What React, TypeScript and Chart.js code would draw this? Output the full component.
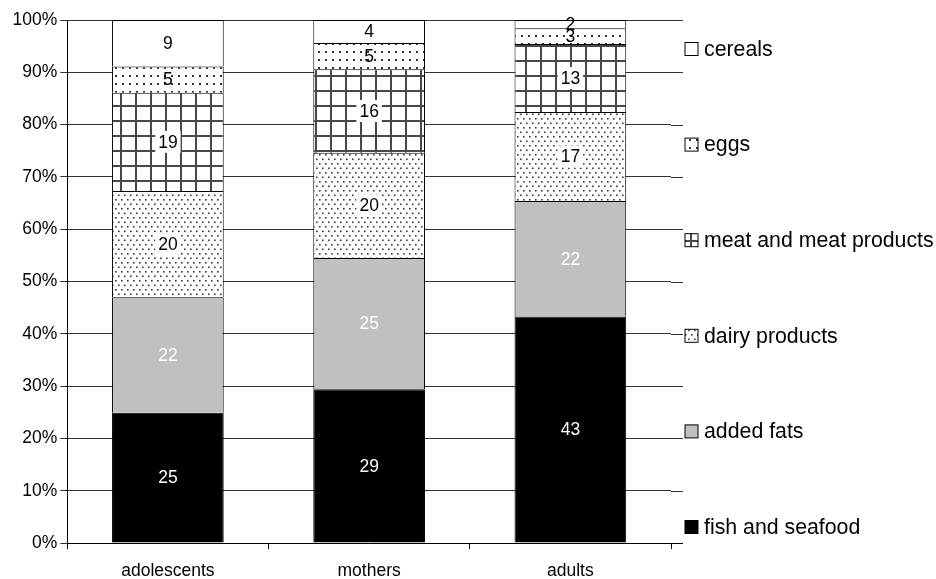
import React, { useEffect, useRef } from 'react';
import { Chart, registerables } from 'chart.js';

Chart.register(...registerables);

const categories = ['adolescents', 'mothers', 'adults'];
const seriesNames = ['fish and seafood', 'added fats', 'dairy products', 'meat and meat products', 'eggs', 'cereals'];
const fishValues = [24.9, 29.4, 43.3];
const fatsValues = [22.1, 25.1, 22.1];
const dairyValues = [20.3, 20.1, 17.0];
const meatValues = [18.8, 16.0, 13.0];
const eggsValues = [5.0, 5.0, 3.0];
const cerealsValues = [8.9, 4.4, 1.6];
const yMax = 100;
const yStep = 10;

const FONT = '"Liberation Sans", Arial, Helvetica, sans-serif';
const EXTEND = 12;

function makePattern(w: number, h: number, draw: (c: CanvasRenderingContext2D) => void) {
  const cv = document.createElement('canvas');
  cv.width = w;
  cv.height = h;
  const c = cv.getContext('2d') as CanvasRenderingContext2D;
  c.fillStyle = '#ffffff';
  c.fillRect(0, 0, w, h);
  draw(c);
  return c.createPattern(cv, 'repeat') as CanvasPattern;
}

export default function App() {
  const ref = useRef<HTMLCanvasElement | null>(null);

  useEffect(() => {
    document.body.style.margin = '0';
    const canvas = ref.current;
    if (!canvas) return;

    const dairyPattern = makePattern(6, 9, (c) => {
      c.fillStyle = '#3a3a3a';
      c.fillRect(1, 1, 1.6, 1.6);
      c.fillRect(4, 5.5, 1.6, 1.6);
    });
    const eggsPattern = makePattern(7, 8, (c) => {
      c.fillStyle = '#333333';
      c.fillRect(3, 3, 2, 2);
    });
    const meatPattern = makePattern(15, 15, (c) => {
      c.fillStyle = '#484848';
      c.fillRect(0, 0, 2, 15);
      c.fillRect(0, 0, 15, 2);
    });

    const seriesValues = [fishValues, fatsValues, dairyValues, meatValues, eggsValues, cerealsValues];
    const fills: (string | CanvasPattern)[] = ['#000000', '#c0c0c0', dairyPattern, meatPattern, eggsPattern, '#ffffff'];
    const labelColors = ['#ffffff', '#ffffff', '#000000', '#000000', '#000000', '#000000'];
    const labelBoxes = [false, false, true, true, false, false];

    const gridExtendPlugin = {
      id: 'gridExtend',
      beforeDatasetsDraw(chart: any) {
        const ctx = chart.ctx as CanvasRenderingContext2D;
        const area = chart.chartArea;
        const yScale = chart.scales.y;
        ctx.save();
        ctx.lineWidth = 1;
        yScale.ticks.forEach((t: any) => {
          const py = Math.round(yScale.getPixelForValue(t.value)) + 0.5;
          ctx.strokeStyle = t.value === 0 ? '#000000' : '#333333';
          ctx.beginPath();
          ctx.moveTo(area.right, py);
          ctx.lineTo(area.right + EXTEND, py);
          ctx.stroke();
        });
        ctx.restore();
      },
    };

    const labelPlugin = {
      id: 'segLabels',
      afterDatasetsDraw(chart: any) {
        const ctx = chart.ctx as CanvasRenderingContext2D;
        chart.data.datasets.forEach((ds: any, di: number) => {
          const meta = chart.getDatasetMeta(di);
          meta.data.forEach((bar: any, i: number) => {
            const v = ds.data[i] as number;
            const p = bar.getProps(['x', 'y', 'base'], true);
            const cy = (p.y + p.base) / 2;
            const text = String(Math.round(v));
            ctx.save();
            ctx.font = `17.5px ${FONT}`;
            ctx.textAlign = 'center';
            ctx.textBaseline = 'middle';
            if (labelBoxes[di]) {
              const w = ctx.measureText(text).width + 6;
              ctx.fillStyle = '#ffffff';
              ctx.fillRect(p.x - w / 2, cy - 11, w, 22);
            }
            ctx.fillStyle = labelColors[di];
            ctx.fillText(text, p.x, cy + 1);
            ctx.restore();
          });
        });
      },
    };

    const legendPlugin = {
      id: 'sideLegend',
      afterDraw(chart: any) {
        const ctx = chart.ctx as CanvasRenderingContext2D;
        const area = chart.chartArea;
        const n = chart.data.datasets.length;
        const first = area.top + 29;
        const step = (area.bottom - area.top - 45) / (n - 1);
        for (let k = 0; k < n; k++) {
          const di = n - 1 - k;
          const ds = chart.data.datasets[di];
          const cy = first + k * step;
          const bx = area.right + EXTEND + 2;
          ctx.save();
          ctx.fillStyle = ds.backgroundColor;
          ctx.fillRect(bx, cy - 6.5, 13, 13);
          ctx.strokeStyle = '#000000';
          ctx.lineWidth = 1;
          ctx.strokeRect(bx, cy - 6.5, 13, 13);
          ctx.fillStyle = '#000000';
          ctx.font = `21.3px ${FONT}`;
          ctx.textAlign = 'left';
          ctx.textBaseline = 'middle';
          ctx.fillText(ds.label, bx + 19, cy + 1);
          ctx.restore();
        }
      },
    };

    const chart = new Chart(canvas, {
      type: 'bar',
      data: {
        labels: categories,
        datasets: seriesNames.map((name, i) => ({
          label: name,
          data: seriesValues[i],
          backgroundColor: fills[i] as any,
          borderColor: '#000000',
          borderWidth: 1,
          categoryPercentage: 1,
          barPercentage: 0.555,
        })),
      },
      options: {
        animation: false,
        responsive: true,
        maintainAspectRatio: false,
        layout: { padding: { left: 9.5, right: 265, top: 20, bottom: -15 } },
        plugins: {
          legend: { display: false },
          tooltip: { enabled: false },
        },
        scales: {
          x: {
            stacked: true,
            grid: { display: true, drawOnChartArea: false, drawTicks: true, tickLength: 6, color: '#000000' },
            border: { color: '#000000', width: 1 },
            ticks: { color: '#000000', font: { family: FONT, size: 17.5 }, padding: 12 },
          },
          y: {
            stacked: true,
            min: 0,
            max: yMax,
            grid: { color: '#333333', tickLength: 7, lineWidth: 1 },
            border: { color: '#000000', width: 1 },
            ticks: {
              stepSize: yStep,
              color: '#000000',
              padding: 3,
              font: { family: FONT, size: 17.5 },
              callback: (v: any) => `${v}%`,
            },
          },
        },
      },
      plugins: [gridExtendPlugin, labelPlugin, legendPlugin],
    });

    return () => chart.destroy();
  }, []);

  return (
    <div style={{ position: 'relative', width: '936px', height: '579px' }}>
      <canvas ref={ref} />
    </div>
  );
}
